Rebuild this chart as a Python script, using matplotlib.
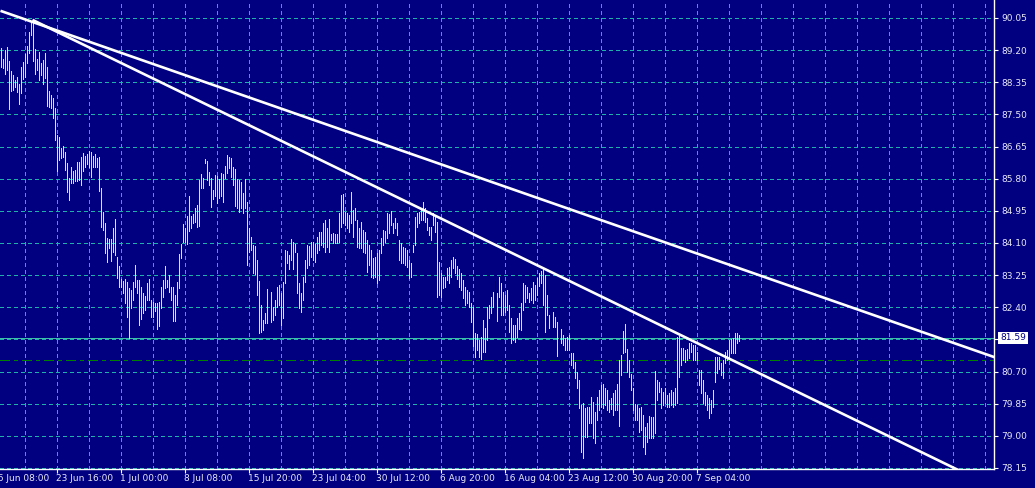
import numpy as np
import matplotlib.pyplot as plt

plt.rcParams['font.family'] = 'DejaVu Sans'

# bar highs / lows (one per bar, left to right)
highs = [
    89.26, 88.97, 89.20, 89.28, 88.91, 88.65, 88.54, 88.41, 88.49, 88.30,
    88.75, 88.89, 89.10, 89.31, 89.68, 89.94, 90.02, 89.23, 88.97, 89.15,
    88.86, 88.94, 89.13, 88.75, 88.12, 88.01, 87.93, 87.67, 86.96, 86.90,
    86.61, 86.67, 86.51, 86.22, 85.82, 86.11, 86.00, 86.03, 86.24, 86.24,
    86.37, 86.48, 86.40, 86.45, 86.53, 86.51, 86.40, 86.45, 86.35, 86.37,
    85.55, 84.92, 84.63, 84.23, 84.21, 84.21, 84.50, 84.74, 83.73, 83.49,
    83.15, 83.10, 83.15, 83.07, 82.91, 82.86, 83.07, 83.52, 83.12, 83.12,
    82.94, 82.78, 82.70, 83.04, 83.15, 82.59, 82.54, 82.51, 82.51, 82.54,
    82.94, 83.12, 83.49, 83.12, 83.25, 82.94, 82.94, 82.73, 83.07, 83.81,
    84.07, 84.60, 84.50, 84.81, 85.34, 84.81, 84.87, 85.02, 85.10, 85.77,
    85.92, 85.82, 86.32, 86.27, 85.98, 85.82, 85.50, 85.90, 85.87, 85.79,
    85.95, 85.92, 86.14, 86.43, 86.37, 86.35, 86.11, 86.06, 85.79, 85.77,
    85.71, 85.42, 85.79, 85.18, 84.50, 84.26, 84.05, 84.02, 83.65, 83.10,
    82.46, 82.06, 82.25, 82.88, 82.96, 82.80, 82.41, 82.59, 82.94, 82.99,
    82.78, 83.07, 83.92, 83.89, 83.78, 84.21, 84.13, 84.07, 83.84, 83.04,
    82.78, 83.20, 83.65, 84.05, 84.02, 84.13, 84.13, 84.07, 84.26, 84.39,
    84.39, 84.63, 84.71, 84.50, 84.74, 84.34, 84.36, 84.34, 84.34, 84.89,
    85.37, 85.40, 84.92, 84.89, 84.84, 85.45, 84.97, 85.02, 84.71, 84.50,
    84.65, 84.44, 84.39, 84.18, 84.05, 83.92, 83.70, 83.73, 83.84, 83.92,
    84.23, 84.44, 84.42, 84.89, 84.87, 84.95, 84.63, 84.76, 84.63, 84.18,
    84.10, 83.99, 83.97, 83.92, 83.65, 83.57, 84.05, 84.79, 84.89, 84.92,
    85.02, 85.18, 85.02, 84.76, 84.52, 84.52, 84.89, 84.79, 84.65, 83.60,
    83.31, 83.20, 83.20, 83.44, 83.47, 83.65, 83.73, 83.68, 83.49, 83.41,
    83.31, 83.12, 82.94, 82.86, 82.80, 82.51, 82.41, 81.72, 81.69, 81.53,
    81.61, 82.06, 81.85, 82.41, 82.46, 82.67, 82.80, 83.10, 82.78, 83.20,
    83.04, 82.80, 82.73, 82.86, 82.46, 82.12, 81.93, 81.93, 82.12, 82.25,
    82.51, 83.04, 82.99, 82.94, 82.78, 82.91, 83.07, 82.99, 83.17, 83.31,
    83.36, 83.47, 83.25, 82.73, 82.20, 82.20, 82.28, 82.14, 82.01, 81.80,
    81.83, 81.67, 81.59, 81.61, 81.67, 81.19, 81.19, 80.95, 80.69, 80.48,
    79.82, 79.87, 79.74, 79.76, 79.76, 80.02, 79.89, 79.63, 80.02, 80.21,
    80.34, 80.37, 80.27, 80.21, 79.95, 80.00, 80.13, 80.21, 80.37, 81.01,
    81.14, 81.77, 81.96, 81.30, 81.01, 80.64, 80.27, 79.84, 79.82, 79.74,
    79.76, 79.55, 79.23, 79.34, 79.52, 79.50, 79.50, 80.71, 80.48, 80.42,
    80.27, 80.16, 80.27, 80.08, 80.13, 80.21, 80.16, 80.27, 81.61, 81.64,
    81.32, 81.32, 81.27, 81.30, 81.46, 81.46, 81.40, 81.40, 81.22, 80.74,
    80.74, 80.48, 80.16, 80.08, 80.00, 79.95, 80.21, 81.09, 81.09, 81.09,
    80.93, 81.01, 81.22, 81.27, 81.53, 81.56, 81.59, 81.72, 81.72, 81.67,
]
lows = [
    88.75, 88.73, 88.57, 88.68, 87.64, 88.12, 88.15, 88.23, 88.09, 87.78,
    88.07, 88.44, 88.49, 88.86, 89.13, 89.60, 88.91, 88.57, 88.68, 88.41,
    88.54, 88.30, 88.46, 87.72, 87.70, 87.67, 87.41, 86.82, 86.00, 86.30,
    86.35, 86.37, 86.03, 85.45, 85.24, 85.69, 85.69, 85.74, 85.74, 85.77,
    85.63, 86.00, 86.11, 86.19, 86.11, 85.85, 86.11, 86.11, 86.11, 85.47,
    84.52, 84.44, 83.84, 83.60, 83.97, 83.62, 83.86, 83.78, 83.17, 82.94,
    82.94, 82.78, 82.51, 82.14, 81.59, 82.38, 82.59, 82.94, 82.78, 81.93,
    82.09, 82.25, 82.33, 82.59, 82.59, 82.14, 82.14, 82.30, 81.83, 81.91,
    82.38, 82.67, 82.91, 82.94, 82.80, 82.59, 82.04, 82.04, 82.46, 82.91,
    83.70, 84.13, 84.13, 84.07, 84.42, 84.50, 84.63, 84.65, 84.52, 84.55,
    85.55, 85.55, 86.22, 85.77, 85.63, 85.05, 85.26, 85.34, 85.16, 85.29,
    85.34, 85.18, 85.82, 85.95, 86.08, 85.85, 85.63, 85.08, 85.02, 84.92,
    85.02, 84.89, 85.02, 83.52, 83.86, 83.92, 83.31, 83.28, 82.73, 81.72,
    81.75, 81.80, 81.98, 81.98, 82.51, 82.01, 82.06, 82.20, 82.41, 82.46,
    81.93, 82.12, 83.04, 83.57, 83.41, 83.65, 83.41, 83.86, 82.78, 82.38,
    82.28, 82.59, 83.07, 83.44, 83.52, 83.73, 83.65, 83.60, 83.84, 83.92,
    84.05, 83.99, 83.86, 83.99, 83.86, 84.18, 84.10, 84.10, 84.10, 84.13,
    84.52, 84.63, 84.58, 84.50, 84.39, 84.63, 84.26, 84.71, 83.99, 83.97,
    83.97, 83.86, 83.84, 83.33, 83.52, 83.20, 83.17, 83.20, 83.04, 83.12,
    83.84, 84.05, 84.13, 84.23, 84.36, 84.58, 84.36, 84.50, 84.31, 83.65,
    83.57, 83.57, 83.52, 83.47, 83.17, 83.20, 83.86, 84.05, 84.52, 84.63,
    84.71, 84.71, 84.65, 84.44, 84.31, 84.18, 84.58, 84.39, 82.67, 82.73,
    82.67, 82.91, 82.94, 83.12, 83.04, 83.20, 83.44, 83.31, 83.15, 82.94,
    82.86, 82.65, 82.46, 82.51, 82.41, 82.01, 81.38, 81.09, 81.27, 81.09,
    81.03, 81.22, 81.22, 81.53, 82.12, 82.25, 82.41, 82.65, 82.04, 82.67,
    82.20, 82.20, 82.28, 82.33, 81.75, 81.46, 81.53, 81.48, 81.61, 81.83,
    81.80, 82.33, 82.54, 82.65, 82.54, 82.59, 82.51, 82.59, 82.73, 82.96,
    83.04, 82.46, 81.75, 82.20, 81.85, 81.98, 81.88, 81.88, 81.11, 81.53,
    81.46, 81.40, 81.27, 81.27, 81.27, 80.87, 80.79, 80.53, 80.27, 79.74,
    78.57, 78.41, 78.97, 78.97, 79.34, 79.34, 78.94, 78.81, 79.42, 79.68,
    79.76, 79.74, 79.82, 79.68, 79.63, 79.71, 79.55, 79.68, 79.68, 79.26,
    80.61, 81.19, 81.22, 80.69, 80.56, 80.21, 79.68, 79.42, 79.42, 79.10,
    79.15, 78.71, 78.52, 78.84, 78.94, 78.94, 78.94, 79.08, 79.95, 80.16,
    79.74, 79.82, 79.87, 79.76, 79.76, 79.82, 79.76, 79.82, 79.87, 80.56,
    80.87, 81.01, 80.95, 81.01, 81.06, 81.22, 81.01, 81.01, 81.01, 80.34,
    80.13, 79.87, 79.82, 79.68, 79.47, 79.60, 79.76, 80.42, 80.66, 80.77,
    80.61, 80.53, 80.93, 81.01, 81.09, 81.19, 81.19, 81.19, 81.46, 81.51,
]
dark_bars = [134, 247, 275, 279]

price_levels = [78.15, 79.00, 79.85, 80.70, 81.55, 82.40, 83.25, 84.10,
                84.95, 85.80, 86.65, 87.50, 88.35, 89.20, 90.05]
date_bars = [-4, 28, 60, 92, 124, 156, 188, 220, 252, 284, 316, 348]
date_labels = ["16 Jun 08:00", "23 Jun 16:00", "1 Jul 00:00", "8 Jul 08:00",
               "15 Jul 20:00", "23 Jul 04:00", "30 Jul 12:00", "6 Aug 20:00",
               "16 Aug 04:00", "23 Aug 12:00", "30 Aug 20:00", "7 Sep 04:00"]

last_price = 81.59
alert_level = 81.00

# trend lines (bar index, price)
trend_a_x = [0, 497]
trend_a_y = [90.24, 81.08]
trend_b_x = [16, 497]
trend_b_y = [90.00, 77.63]

navy = '#000080'
grid_col = '#20b2aa'
bar_col = '#f5deb3'
text_col = '#e8e8f4'

fig = plt.figure(figsize=(10.35, 4.88), dpi=100, facecolor=navy)
ax = fig.add_axes([0, 1 - 469 / 488, 994 / 1035, 469 / 488], facecolor=navy)

x = np.arange(len(highs))
colors = [('black' if i in dark_bars else bar_col) for i in x]
ax.vlines(x, lows, highs, colors=colors, linewidth=0.6, antialiased=False, zorder=3)

# grid
for gx in np.arange(12, 497, 16):
    ax.axvline(gx, color=grid_col, lw=0.6, ls=(0, (4, 4)), antialiased=False, zorder=1)
for lv in price_levels:
    ax.axhline(lv, color=grid_col, lw=0.6, ls=(0, (4, 4)), antialiased=False, zorder=1)

ax.axhline(last_price, color='#3cc0aa', lw=0.6, antialiased=False, zorder=2)
ax.axhline(alert_level, color='#008000', lw=0.6, ls=(0, (12, 5, 4, 5)),
           antialiased=False, zorder=2)

ax.plot(trend_a_x, trend_a_y, color='white', lw=1.9, zorder=4, solid_capstyle='butt')
ax.plot(trend_b_x, trend_b_y, color='white', lw=1.9, zorder=4, solid_capstyle='butt')

ax.set_xlim(-0.25, 496.75)
ax.set_ylim(78.123, 90.526)

for s in ['left', 'top']:
    ax.spines[s].set_visible(False)
for s in ['right', 'bottom']:
    ax.spines[s].set_color('white')
    ax.spines[s].set_linewidth(1.0)

ax.yaxis.tick_right()
ax.set_yticks(price_levels)
ax.set_yticklabels(['' if abs(v - 81.55) < 0.01 else f'{v:.2f}' for v in price_levels])
ax.tick_params(axis='y', colors='white', labelcolor=text_col, length=3, width=0.8,
               pad=2, labelsize=6.5)

ax.set_xticks([b for b in date_bars if b >= 0])
ax.set_xticklabels([])
ax.tick_params(axis='x', colors='white', length=3, width=0.8)

for b, lab in zip(date_bars, date_labels):
    ax.text(b, -0.011, lab, transform=ax.get_xaxis_transform(), ha='left', va='top',
            color=text_col, fontsize=6.5, clip_on=False)

ax.annotate(f'{last_price:.2f}', xy=(1, last_price), xycoords=('axes fraction', 'data'),
            xytext=(4.3, 0), textcoords='offset points', ha='left', va='center',
            color=navy, fontsize=6.5,
            bbox=dict(boxstyle='square,pad=0.2', fc='white', ec='none'))

fig.savefig('out.png', dpi=100, facecolor=navy)
